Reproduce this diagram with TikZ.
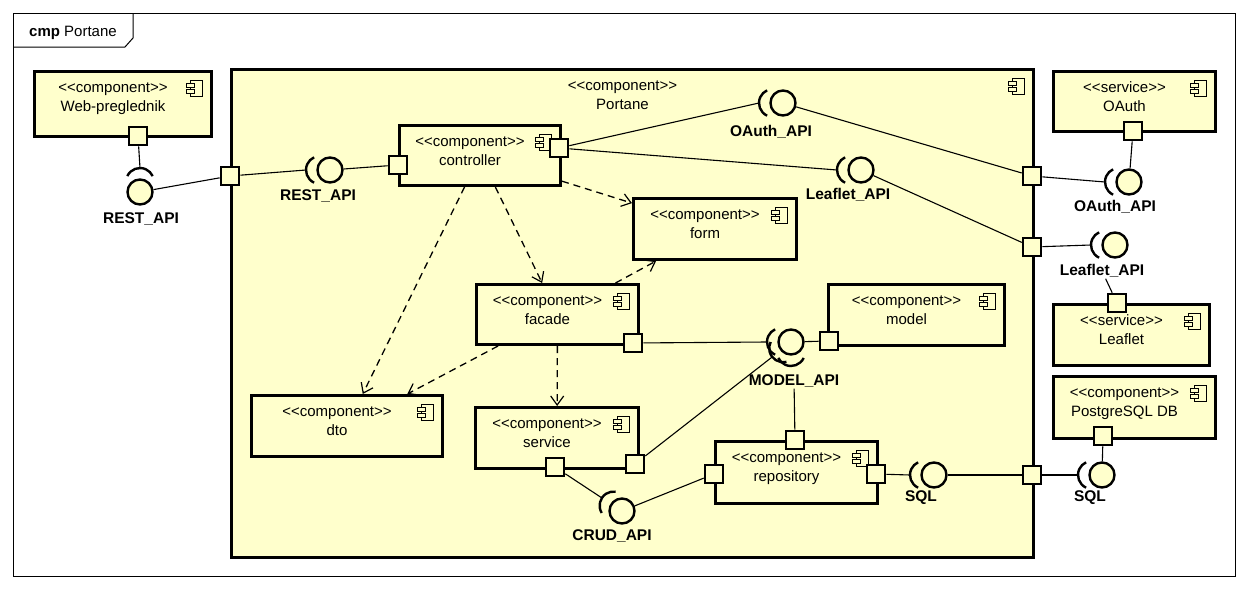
\documentclass[tikz,border=0pt]{standalone}
\usepackage{fontspec}
\setmainfont{Liberation Sans}
\usetikzlibrary{arrows.meta,calc}

\definecolor{umlyellow}{HTML}{FFFFCC}

\newcommand\stereo[1]{<{}<#1>{}>}

\tikzset{compicon/.pic={
    \draw[line width=0.9pt] (-5,-8) rectangle (7,8);
    \draw[line width=0.9pt, fill=umlyellow] (-9,-5) rectangle (-1,-1);
    \draw[line width=0.9pt, fill=umlyellow] (-9,1) rectangle (-1,5);
}}

% name, x, y, width, height, stereotype, title
\newcommand\umlcomp[7]{
    \node[compbox, minimum width=#4pt, minimum height=#5pt, anchor=north west] (#1) at (#2,#3) {};
    \node[anchor=base] (#1-st) at ($(#1.north)+(-10,22)$) {\stereo{#6}};
    \node[anchor=base] (#1-tt) at ($(#1.north)+(-10,41)$) {#7};
    \pic at ($(#1.north east)+(-18,18)$) {compicon};
}

% ball, angle, name of the socket point
\newcommand\umlsocket[3]{
    \draw[socketline] ($(#1)+(#2:10)$) ++(#2-65:14) arc[start angle=#2-65, end angle=#2+65, radius=14];
    \coordinate (#3) at ($(#1)+(#2:24)$);
}

\begin{document}
\begin{tikzpicture}[x=1pt,y=-1pt]
        \tikzstyle{every node}=[font=\fontsize{15}{18}\selectfont, inner sep=1pt]
        \tikzstyle{compbox}=[draw, line width=3pt, fill=umlyellow, inner sep=0pt]
        \tikzstyle{portbox}=[draw, line width=2.6pt, fill=umlyellow, minimum size=18pt, inner sep=0pt]
        \tikzstyle{ballnode}=[circle, draw, line width=2.4pt, fill=umlyellow, minimum size=25pt, inner sep=0pt]
        \tikzstyle{socketline}=[line width=2.4pt]
        \tikzstyle{iflabel}=[font=\fontsize{15.5}{18}\selectfont\bfseries]
        \tikzstyle{conn}=[line width=1.1pt]
        \tikzstyle{depend}=[line width=1.3pt, dash pattern=on 7pt off 5pt, -{Straight Barb[length=9pt,width=13pt,line width=1.2pt]}]
        \useasboundingbox (0,0) rectangle (1248,589);

        % frame
        \draw[line width=1pt] (13,13) rectangle (1235,576);
        \draw[line width=1pt] (13,47) -- (125,47) -- (133,38) -- (133,13);
        \node[anchor=base west] (frametitle) at (28,36) {\textbf{cmp} Portane};

        % components
        \umlcomp{Portane}{230}{68}{802}{488}{component}{Portane}
        \umlcomp{WebPreglednik}{33}{70}{177}{65}{component}{Web-preglednik}
        \umlcomp{Controller}{398}{124}{161}{60}{component}{controller}
        \umlcomp{Form}{632}{197}{163}{61}{component}{form}
        \umlcomp{Facade}{475}{283}{162}{60}{component}{facade}
        \umlcomp{Model}{827}{283}{176}{61}{component}{model}
        \umlcomp{Dto}{250}{394}{191}{61}{component}{dto}
        \umlcomp{Service}{474}{406}{163}{61}{component}{service}
        \umlcomp{Repository}{714}{440}{162}{62}{component}{repository}
        \umlcomp{OAuth}{1052}{70}{162}{60}{service}{OAuth}
        \umlcomp{Leaflet}{1052}{303}{156}{61}{service}{Leaflet}
        \umlcomp{PostgreSQL}{1052}{375}{162}{62}{component}{PostgreSQL DB}

        % dependencies
        \draw[depend] (Controller) -- (Form);
        \draw[depend] (Controller) -- (Facade);
        \draw[depend] (Controller) -- (Dto);
        \draw[depend] (Facade) -- (Form);
        \draw[depend] (Facade) -- (Dto);
        \draw[depend] (Facade) -- (Service);

        % ports
        \node[portbox] (webPort) at (138,136) {};
        \node[portbox] (portaneLeft) at (230,176) {};
        \node[portbox] (portaneOAuth) at (1032,176) {};
        \node[portbox] (portaneLeaflet) at (1032,247) {};
        \node[portbox] (portaneSQL) at (1032,475) {};
        \node[portbox] (ctrlLeft) at (398,165) {};
        \node[portbox] (ctrlRight) at (559,148) {};
        \node[portbox] (oauthPort) at (1133,131) {};
        \node[portbox] (leafletPort) at (1117,303) {};
        \node[portbox] (pgPort) at (1103,436) {};
        \node[portbox] (facadePort) at (633,343) {};
        \node[portbox] (modelPort) at (829,341) {};
        \node[portbox] (serviceBottom) at (555,467) {};
        \node[portbox] (serviceRight) at (635,464) {};
        \node[portbox] (repoTop) at (795,440) {};
        \node[portbox] (repoLeft) at (714,474) {};
        \node[portbox] (repoRight) at (876,474) {};

        % interfaces
        \node[ballnode] (restBallOut) at (140,192) {};
        \node[ballnode] (restBallIn) at (330,170) {};
        \node[ballnode] (oauthBallIn) at (783,103) {};
        \node[ballnode] (leafletBallIn) at (861,170) {};
        \node[ballnode] (oauthBallOut) at (1129,182) {};
        \node[ballnode] (leafletBallOut) at (1115,245) {};
        \node[ballnode] (sqlBallIn) at (934,475) {};
        \node[ballnode] (sqlBallOut) at (1102,475) {};
        \node[ballnode] (modelBall) at (791,342) {};
        \node[ballnode] (crudBall) at (622,511) {};

        \umlsocket{restBallOut}{270}{restSockOut}
        \umlsocket{restBallIn}{180}{restSockIn}
        \umlsocket{oauthBallIn}{180}{oauthSockIn}
        \umlsocket{leafletBallIn}{180}{leafletSockIn}
        \umlsocket{oauthBallOut}{180}{oauthSockOut}
        \umlsocket{leafletBallOut}{180}{leafletSockOut}
        \umlsocket{sqlBallIn}{180}{sqlSockIn}
        \umlsocket{sqlBallOut}{180}{sqlSockOut}
        \umlsocket{modelBall}{180}{modelSockFacade}
        \umlsocket{modelBall}{141.5}{modelSockService}
        \umlsocket{modelBall}{90}{modelSockRepo}
        \umlsocket{crudBall}{213}{crudSock}

        \node[iflabel] (restLabelOut) at (141,219) {REST\_API};
        \node[iflabel] (restLabelIn) at (318,196) {REST\_API};
        \node[iflabel] (oauthLabelIn) at (771,132) {OAuth\_API};
        \node[iflabel] (leafletLabelIn) at (848,195) {Leaflet\_API};
        \node[iflabel] (oauthLabelOut) at (1115,207) {OAuth\_API};
        \node[iflabel] (leafletLabelOut) at (1102,271) {Leaflet\_API};
        \node[iflabel] (modelLabel) at (794,381) {MODEL\_API};
        \node[iflabel] (crudLabel) at (612,536) {CRUD\_API};
        \node[iflabel] (sqlLabelIn) at (921,498) {SQL};
        \node[iflabel] (sqlLabelOut) at (1090,498) {SQL};

        % connectors
        \draw[conn] (webPort) -- (restSockOut);
        \draw[conn] (restBallOut) -- (portaneLeft);
        \draw[conn] (portaneLeft) -- (restSockIn);
        \draw[conn] (restBallIn) -- (ctrlLeft);
        \draw[conn] (ctrlRight) -- (oauthSockIn);
        \draw[conn] (oauthBallIn) -- (portaneOAuth);
        \draw[conn] (ctrlRight) -- (leafletSockIn);
        \draw[conn] (leafletBallIn) -- (portaneLeaflet);
        \draw[conn] (portaneOAuth) -- (oauthSockOut);
        \draw[conn] (oauthBallOut) -- (oauthPort);
        \draw[conn] (portaneLeaflet) -- (leafletSockOut);
        \draw[conn] (leafletLabelOut) -- (leafletPort);
        \draw[conn] (repoRight) -- (sqlSockIn);
        \draw[conn] (sqlBallIn) -- (portaneSQL);
        \draw[conn] (portaneSQL) -- (sqlSockOut);
        \draw[conn] (sqlBallOut) -- (pgPort);
        \draw[conn] (facadePort) -- (modelSockFacade);
        \draw[conn] (serviceRight) -- (modelSockService);
        \draw[conn] (repoTop) -- (modelLabel);
        \draw[conn] (modelBall) -- (modelPort);
        \draw[conn] (serviceBottom) -- (crudSock);
        \draw[conn] (crudBall) -- (repoLeft);
    \end{tikzpicture}
\end{document}
